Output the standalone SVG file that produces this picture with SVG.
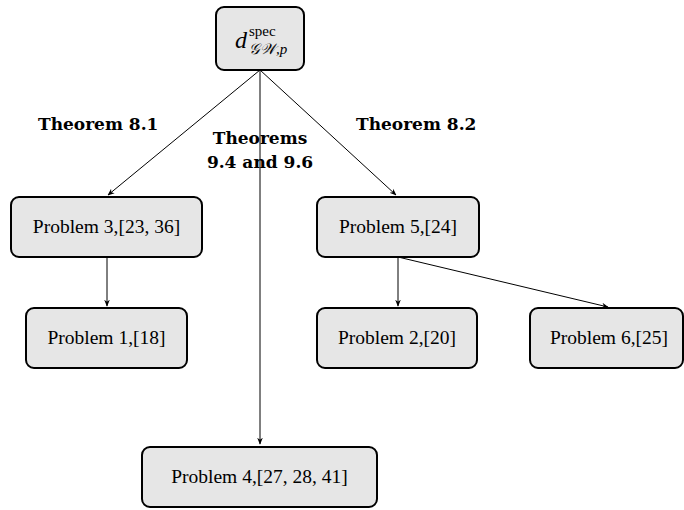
<svg xmlns="http://www.w3.org/2000/svg" width="684" height="510" viewBox="0 0 684 510">
<defs>
<style>
.box{fill:#e6e6e6;stroke:#000;stroke-width:2}
.t{font-family:"Liberation Serif",serif;font-size:19.5px;text-anchor:middle;fill:#000}
.lb{font-family:"DejaVu Serif",serif;font-size:17px;font-weight:bold;fill:#000}
.e{stroke:#000;stroke-width:1;fill:none;marker-end:url(#ah)}
</style>
<marker id="ah" viewBox="0 0 10 10" refX="9" refY="5" markerWidth="7" markerHeight="7" markerUnits="userSpaceOnUse" orient="auto">
<path d="M0,1 L10,5 L0,9 L3,5 Z" fill="#000"/>
</marker>
</defs>
<g id="edges">
<line class="e" x1="260" y1="70" x2="108" y2="195"/>
<line class="e" x1="260" y1="70" x2="396" y2="195"/>
<line class="e" x1="260" y1="70" x2="260" y2="444"/>
<line class="e" x1="107" y1="257" x2="107" y2="306"/>
<line class="e" x1="398" y1="257" x2="398" y2="306"/>
<line class="e" x1="398" y1="257" x2="608" y2="307"/>
</g>
<g id="labels">
<text class="lb" x="38" y="130">Theorem 8.1</text>
<text class="lb" x="356" y="130">Theorem 8.2</text>
<text class="lb" x="260" y="144" text-anchor="middle">Theorems</text>
<text class="lb" x="260" y="168" text-anchor="middle">9.4 and 9.6</text>
</g>
<g id="top">
<rect class="box" x="216" y="7" width="88" height="63" rx="8"/>
<text font-family="Liberation Serif,serif" font-size="24" x="235" y="48" font-style="italic">d</text>
<text font-family="Liberation Serif,serif" font-size="15" x="249" y="36">spec</text>
<text font-family="Liberation Serif,serif" font-size="15" x="249" y="54" font-style="italic">𝒢𝒲,p</text>
</g>
<g id="p3"><rect class="box" x="11" y="197" width="191" height="60" rx="8"/><text class="t" x="106.5" y="233">Problem 3,[23, 36]</text></g>
<g id="p1"><rect class="box" x="26" y="308" width="161" height="60" rx="8"/><text class="t" x="106.5" y="344">Problem 1,[18]</text></g>
<g id="p5"><rect class="box" x="317" y="197" width="162" height="60" rx="8"/><text class="t" x="398" y="233">Problem 5,[24]</text></g>
<g id="p2"><rect class="box" x="317" y="308" width="160" height="60" rx="8"/><text class="t" x="397" y="344">Problem 2,[20]</text></g>
<g id="p6"><rect class="box" x="530" y="308" width="153" height="60" rx="8"/><text class="t" x="609" y="344">Problem 6,[25]</text></g>
<g id="p4"><rect class="box" x="142" y="447" width="235" height="60" rx="8"/><text class="t" x="259.5" y="483">Problem 4,[27, 28, 41]</text></g>
</svg>
